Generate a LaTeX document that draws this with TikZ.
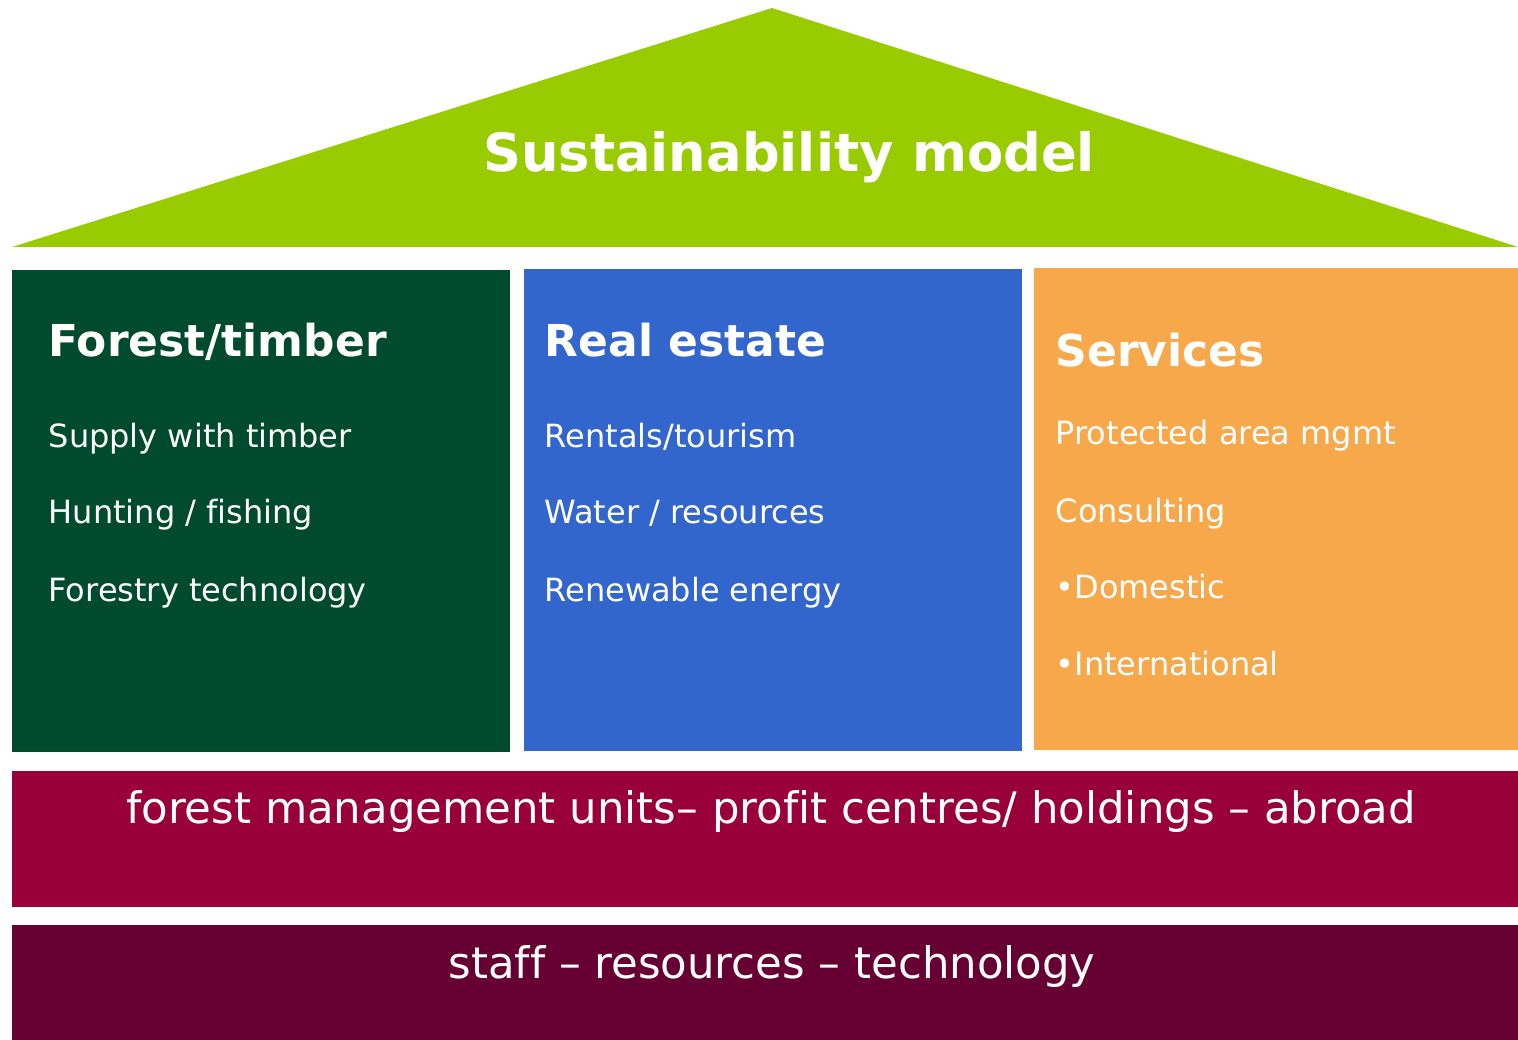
\documentclass[tikz,border=0pt]{standalone}
\usepackage{fontspec}
\setmainfont[Ligatures=NoCommon]{DejaVu Sans}
\definecolor{roofgreen}{HTML}{99CC00}
\definecolor{forestgreen}{HTML}{004A2F}
\definecolor{estateblue}{HTML}{3366CC}
\definecolor{serviceorange}{HTML}{F7A84A}
\definecolor{unitred}{HTML}{990039}
\definecolor{basepurple}{HTML}{660033}
\tikzset{
  pillar/.style={anchor=north west, inner sep=0, outer sep=0, minimum height=4.82cm},
  floor/.style={anchor=north west, inner sep=0, outer sep=0, minimum width=15.06cm},
  head/.style={anchor=base west, inner sep=0, text=white,
    font=\fontsize{12.5}{15}\selectfont\bfseries},
  entry/.style={anchor=base west, inner sep=0, text=white,
    font=\fontsize{9.1}{11}\selectfont},
  floortext/.style={anchor=base, inner sep=0, text=white,
    font=\fontsize{12.35}{14}\selectfont}
}
\begin{document}
\begin{tikzpicture}[x=0.01cm,y=-0.01cm]
  \useasboundingbox (0,0) rectangle (1518,1040);
  % roof
  \coordinate (eaveL) at (12,247);
  \coordinate (ridge) at (772,8);
  \coordinate (eaveR) at (1518,247);
  \fill [roofgreen] (eaveL) -- (ridge) -- (eaveR) -- cycle;
  \node [anchor=base, inner sep=0, text=white, font=\fontsize{15}{18}\selectfont\bfseries]
        (title) at (789,172) {Sustainability model};
  % pillars
  \node [pillar, fill=forestgreen, minimum width=4.98cm] (forest) at (12,270) {};
  \node [pillar, fill=estateblue, minimum width=4.98cm] (estate) at (524,269) {};
  \node [pillar, fill=serviceorange, minimum width=4.84cm] (services) at (1034,268) {};
  \node [head] (forestHead) at (48,357) {Forest/timber};
  \node [entry] (supply) at (48,448) {Supply with timber};
  \node [entry] (hunting) at (48,524) {Hunting / fishing};
  \node [entry] (technology) at (48,601) {Forestry technology};
  \node [head] (estateHead) at (544,357) {Real estate};
  \node [entry] (rentals) at (544,448) {Rentals/tourism};
  \node [entry] (water) at (544,524) {Water / resources};
  \node [entry] (energy) at (544,601) {Renewable energy};
  \node [head] (servicesHead) at (1055,367) {Services};
  \node [entry] (protected) at (1055,445) {Protected area mgmt};
  \node [entry] (consulting) at (1055,522) {Consulting};
  \node [entry] (domestic) at (1055,598) {•Domestic};
  \node [entry] (international) at (1055,675) {•International};
  % floors
  \node [floor, fill=unitred, minimum height=1.36cm] (units) at (12,771) {};
  \node [floor, fill=basepurple, minimum height=1.15cm] (base) at (12,925) {};
  \node [floortext] (unitsText) at (771,823)
        {forest management units– profit centres/ holdings – abroad};
  \node [floortext] (baseText) at (772,978) {staff – resources – technology};
\end{tikzpicture}
\end{document}
